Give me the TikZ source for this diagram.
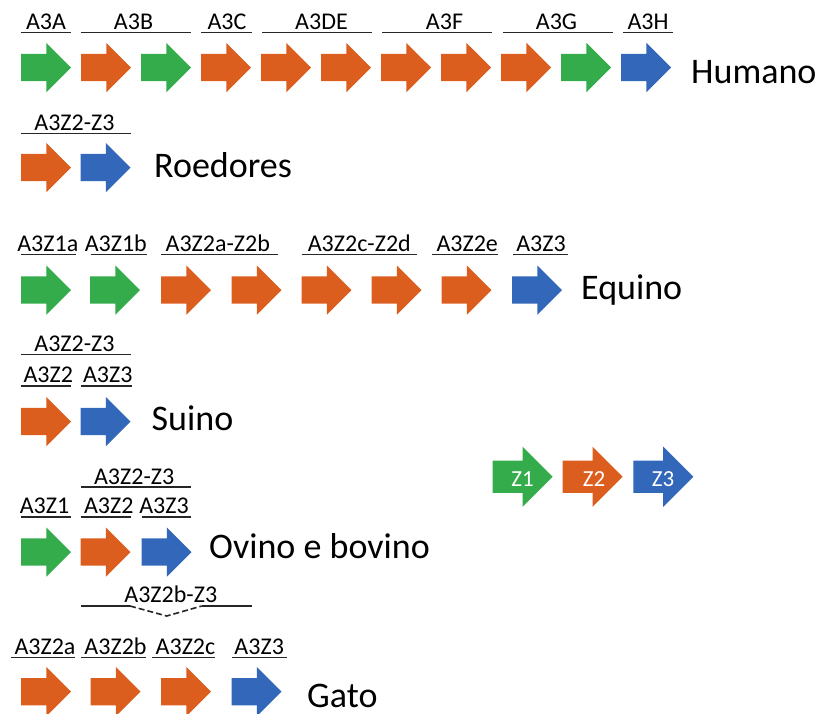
\documentclass[tikz,border=0pt]{standalone}
\usepackage{fontspec}
\setmainfont{Carlito}
\usetikzlibrary{shapes.arrows}
\definecolor{genegreen}{HTML}{34AC4B}
\definecolor{geneorange}{HTML}{DC5E1E}
\definecolor{geneblue}{HTML}{3367BA}
\tikzset{
  gene/.style={single arrow, draw=none, fill=#1, inner xsep=0pt, inner ysep=13.5pt,
    single arrow head extend=11pt, minimum height=50pt, outer sep=0pt, anchor=tail},
  zgene/.style={single arrow, draw=none, fill=#1, inner xsep=0pt, inner ysep=16pt,
    single arrow head extend=14pt, minimum height=60pt, outer sep=0pt, anchor=tail},
  tag/.style={font=\fontsize{24}{24}\selectfont, inner sep=0pt, anchor=base},
  ztag/.style={font=\fontsize{23}{23}\selectfont, text=white, inner sep=0pt, anchor=base},
  species/.style={font=\fontsize{36}{36}\selectfont, inner sep=0pt, anchor=base west},
  uline/.style={line width=1.6pt, draw=black!85},
}
\begin{document}
\begin{tikzpicture}[x=1pt, y=-1pt]
\useasboundingbox (0,0) rectangle (822,713);

% ---- Humano ----
\foreach \c [count=\i from 0] in {genegreen,geneorange,genegreen,geneorange,geneorange,geneorange,geneorange,geneorange,geneorange,genegreen,geneblue}
  \node[gene=\c] (h\i) at ({21+60*\i},67.5) {};
\node[tag] (hA) at (46,29) {A3A};
\node[tag] (hB) at (133.5,29) {A3B};
\node[tag] (hC) at (227,29) {A3C};
\node[tag] (hDE) at (321.5,29) {A3DE};
\node[tag] (hF) at (444.5,29) {A3F};
\node[tag] (hG) at (556.5,29) {A3G};
\node[tag] (hH) at (648,29) {A3H};
\foreach \a/\b in {20.7/71,80.7/191,201/252,262/372,382/492,503/613,623/673}
  \draw[uline] (\a,32.3) -- (\b,32.3);
\node[species] (humano) at (691,83) {Humano};

% ---- Roedores ----
\node[gene=geneorange] (r0) at (21,167.5) {};
\node[gene=geneblue] (r1) at (80.5,167.5) {};
\node[tag] (rZ) at (74.5,130) {A3Z2-Z3};
\draw[uline] (20.7,133.3) -- (130.7,133.3);
\node[species] (roedores) at (154,177) {Roedores};

% ---- Equino ----
\foreach \c/\x [count=\i from 0] in {genegreen/21,genegreen/90,geneorange/161,geneorange/231.5,geneorange/301.5,geneorange/371.5,geneorange/441.5,geneblue/512}
  \node[gene=\c] (e\i) at (\x,290) {};
\node[tag] (eZ1a) at (47.8,251) {A3Z1a};
\node[tag] (eZ1b) at (115.8,251) {A3Z1b};
\node[tag] (eZ2ab) at (217.8,251) {A3Z2a-Z2b};
\node[tag] (eZ2cd) at (359.3,251) {A3Z2c-Z2d};
\node[tag] (eZ2e) at (467.2,251) {A3Z2e};
\node[tag] (eZ3) at (541,251) {A3Z3};
\foreach \a/\b in {20.7/76,90.7/146.7,161/277.7,301.7/416.7,431.7/497.7,513/568}
  \draw[uline] (\a,254.3) -- (\b,254.3);
\node[species] (equino) at (581,299) {Equino};

% ---- Suino ----
\node[gene=geneorange] (s0) at (21,421.5) {};
\node[gene=geneblue] (s1) at (80.5,421.5) {};
\node[tag] (sZ) at (74.5,351.5) {A3Z2-Z3};
\draw[uline] (20.7,354.3) -- (131,354.3);
\node[tag] (sZ2) at (48.3,382.5) {A3Z2};
\node[tag] (sZ3) at (107.8,382.5) {A3Z3};
\draw[uline] (20.7,386) -- (71,386);
\draw[uline] (80.7,386) -- (131.7,386);
\node[species] (suino) at (151.5,430) {Suino};

% ---- Legend ----
\node[zgene=genegreen] (z1) at (492.7,476.7) {};
\node[zgene=geneorange] (z2) at (562.7,476.7) {};
\node[zgene=geneblue] (z3) at (633.3,476.7) {};
\node[ztag] (z1t) at (522.5,486.3) {Z1};
\node[ztag] (z2t) at (594,486.3) {Z2};
\node[ztag] (z3t) at (663,486.3) {Z3};

% ---- Ovino e bovino ----
\node[gene=genegreen] (o0) at (21,552) {};
\node[gene=geneorange] (o1) at (80.5,552) {};
\node[gene=geneblue] (o2) at (141.5,552) {};
\node[tag] (oZ) at (134.2,484) {A3Z2-Z3};
\draw[uline] (80.7,486.7) -- (190.7,486.7);
\node[tag] (oZ1) at (44.5,513) {A3Z1};
\node[tag] (oZ2) at (108.8,513) {A3Z2};
\node[tag] (oZ3) at (164,513) {A3Z3};
\foreach \a/\b in {20.7/70.7,80.7/130.7,141.7/190.7}
  \draw[uline] (\a,516.7) -- (\b,516.7);
\node[species] (ovino) at (209,558.3) {Ovino e bovino};

% ---- Gato ----
\node[gene=geneorange] (g0) at (21,691.7) {};
\node[gene=geneorange] (g1) at (90.5,691.7) {};
\node[gene=geneorange] (g2) at (161,691.7) {};
\node[gene=geneblue] (g3) at (231.5,691.7) {};
\node[tag] (gZ) at (170.8,602.5) {A3Z2b-Z3};
\draw[uline] (80.7,606) -- (130,606);
\draw[uline] (201.7,606) -- (251.7,606);
\draw[uline, dash pattern=on 6pt off 3pt] (130,606) -- (166.7,616) -- (201.7,606);
\node[tag] (gZ2a) at (45,654) {A3Z2a};
\node[tag] (gZ2b) at (115.5,654) {A3Z2b};
\node[tag] (gZ2c) at (185.5,654) {A3Z2c};
\node[tag] (gZ3) at (259.2,654) {A3Z3};
\foreach \a/\b in {10.7/75,80.7/146,151.7/215,231.7/286.7}
  \draw[uline] (\a,657.3) -- (\b,657.3);
\node[species, text depth=0pt] (gato) at (307,707.5) {Gato};
\end{tikzpicture}
\end{document}
